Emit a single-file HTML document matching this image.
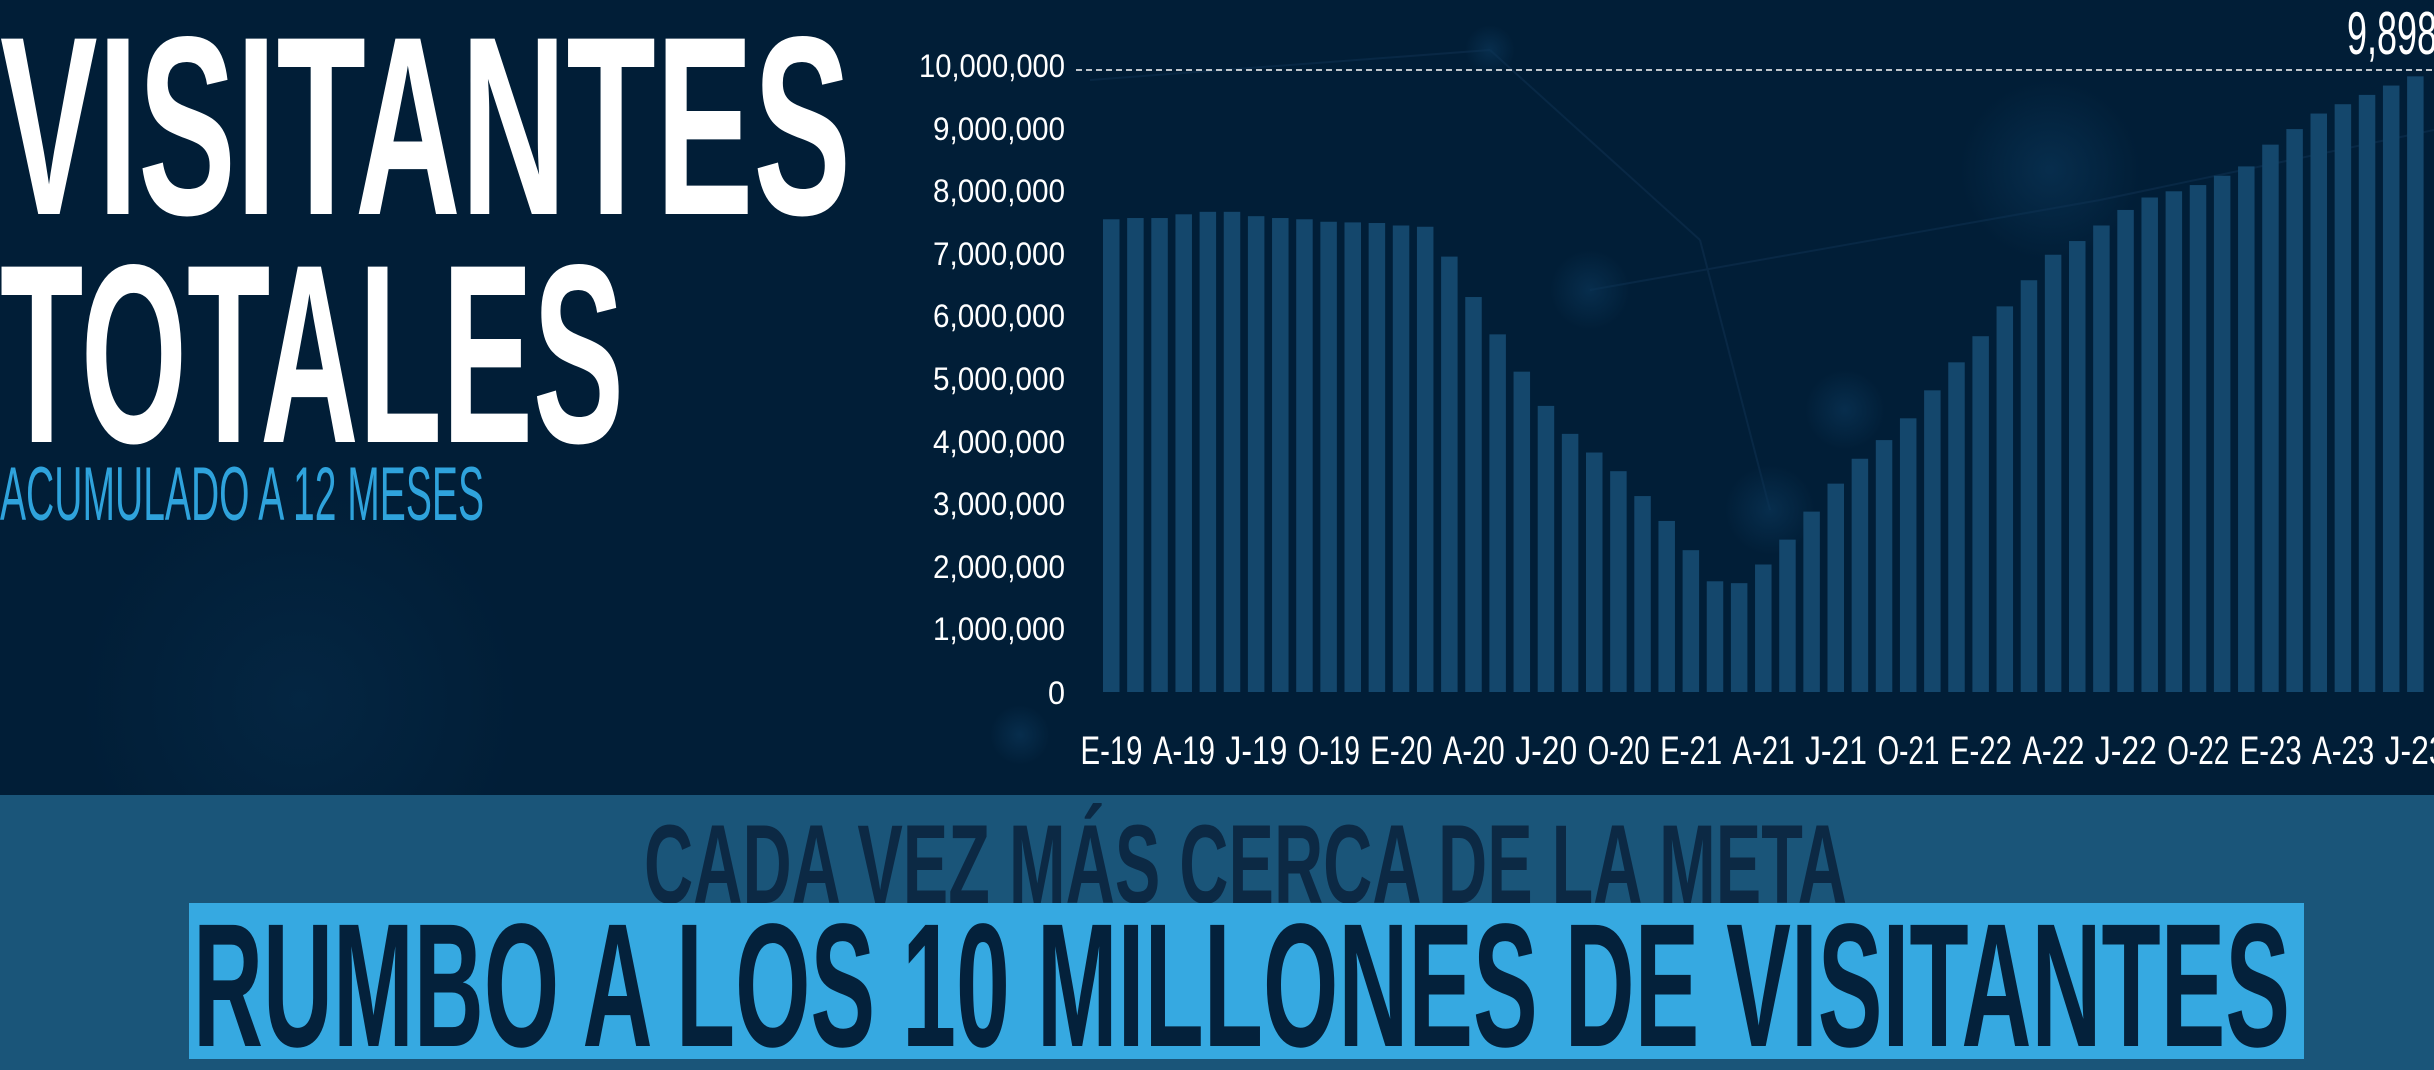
<!DOCTYPE html>
<html><head><meta charset="utf-8"><style>
html,body{margin:0;padding:0;background:#011e37;}
svg{display:block}
</style></head><body>
<svg width="2434" height="1070" viewBox="0 0 2434 1070" xmlns="http://www.w3.org/2000/svg">
<defs>
<radialGradient id="g1"><stop offset="0" stop-color="#0a3456" stop-opacity="0.7"/><stop offset="1" stop-color="#0a3456" stop-opacity="0"/></radialGradient>
</defs>
<rect width="2434" height="1070" fill="#011e37"/>
<g stroke="#1c4266" stroke-width="2" opacity="0.3" fill="none">
<line x1="1090" y1="80" x2="1490" y2="50"/>
<line x1="1490" y1="50" x2="1700" y2="240"/>
<line x1="1590" y1="290" x2="2100" y2="200"/>
<line x1="1700" y1="240" x2="1770" y2="510"/>
<line x1="2100" y1="200" x2="2434" y2="130"/>
</g>
<circle cx="1590" cy="290" r="40" fill="url(#g1)"/>
<circle cx="1770" cy="510" r="45" fill="url(#g1)"/>
<circle cx="1490" cy="50" r="25" fill="url(#g1)"/>
<circle cx="1020" cy="735" r="30" fill="url(#g1)"/>
<circle cx="2050" cy="170" r="90" fill="url(#g1)"/>
<circle cx="1845" cy="410" r="40" fill="url(#g1)"/>
<circle cx="300" cy="700" r="220" fill="url(#g1)" opacity="0.5"/>

<g font-family="Liberation Sans, sans-serif" fill="#ffffff" font-weight="bold">
<text x="0" y="214" font-size="255" textLength="851" lengthAdjust="spacingAndGlyphs">VISITANTES</text>
<text x="0" y="442" font-size="255" textLength="624" lengthAdjust="spacingAndGlyphs">TOTALES</text>
</g>
<text x="0" y="520" font-family="Liberation Sans, sans-serif" font-size="76" fill="#2fa3dc" textLength="484" lengthAdjust="spacingAndGlyphs">ACUMULADO A 12 MESES</text>

<line x1="1076" y1="70" x2="2434" y2="70" stroke="#ffffff" stroke-width="1.5" stroke-dasharray="6,4"/>
<text x="2347" y="54" font-family="Liberation Sans, sans-serif" font-size="60" fill="#ffffff" textLength="160" lengthAdjust="spacingAndGlyphs">9,898,517</text>

<g font-family="Liberation Sans, sans-serif" font-size="32" fill="#ffffff" text-anchor="end">
<text x="1065" y="77" textLength="146" lengthAdjust="spacingAndGlyphs">10,000,000</text>
<text x="1065" y="140" textLength="132" lengthAdjust="spacingAndGlyphs">9,000,000</text>
<text x="1065" y="202" textLength="132" lengthAdjust="spacingAndGlyphs">8,000,000</text>
<text x="1065" y="265" textLength="132" lengthAdjust="spacingAndGlyphs">7,000,000</text>
<text x="1065" y="327" textLength="132" lengthAdjust="spacingAndGlyphs">6,000,000</text>
<text x="1065" y="390" textLength="132" lengthAdjust="spacingAndGlyphs">5,000,000</text>
<text x="1065" y="453" textLength="132" lengthAdjust="spacingAndGlyphs">4,000,000</text>
<text x="1065" y="515" textLength="132" lengthAdjust="spacingAndGlyphs">3,000,000</text>
<text x="1065" y="578" textLength="132" lengthAdjust="spacingAndGlyphs">2,000,000</text>
<text x="1065" y="640" textLength="132" lengthAdjust="spacingAndGlyphs">1,000,000</text>
<text x="1065" y="704" textLength="17" lengthAdjust="spacingAndGlyphs">0</text>
</g>

<g id="bars" fill="#14476c"></g>
<g id="xl" font-family="Liberation Sans, sans-serif" font-size="40" fill="#ffffff" text-anchor="middle"></g>

<rect x="0" y="795" width="2434" height="275" fill="#1a5579"/>
<text x="644" y="903" font-family="Liberation Sans, sans-serif" font-weight="bold" font-size="112" fill="#0c2944" textLength="1203" lengthAdjust="spacingAndGlyphs">CADA VEZ MÁS CERCA DE LA META</text>
<rect x="189" y="903" width="2115" height="156" fill="#36a9e1"/>
<text x="193" y="1046" font-family="Liberation Sans, sans-serif" font-weight="bold" font-size="176" fill="#04213b" textLength="2097" lengthAdjust="spacingAndGlyphs">RUMBO A LOS 10 MILLONES DE VISITANTES</text>
</svg>
<script>
var v=[7.6,7.62,7.62,7.68,7.72,7.72,7.65,7.62,7.6,7.56,7.55,7.54,
7.5,7.48,7.0,6.35,5.75,5.15,4.6,4.15,3.85,3.55,3.15,2.75,
2.28,1.78,1.75,2.05,2.45,2.9,3.35,3.75,4.05,4.4,4.85,5.3,
5.72,6.2,6.62,7.03,7.25,7.5,7.75,7.95,8.05,8.15,8.3,8.45,
8.8,9.05,9.3,9.45,9.6,9.75,9.898];
var ns="http://www.w3.org/2000/svg",g=document.getElementById("bars"),xl=document.getElementById("xl");
var labs=["E-19","A-19","J-19","O-19","E-20","A-20","J-20","O-20","E-21","A-21","J-21","O-21","E-22","A-22","J-22","O-22","E-23","A-23","J-23"];
for(var i=0;i<v.length;i++){var x=1103+i*24.15,h=v[i]*62.2;var r=document.createElementNS(ns,"rect");
r.setAttribute("x",x);r.setAttribute("y",692-h);r.setAttribute("width",16.5);r.setAttribute("height",h);g.appendChild(r);
if(i%3==0){var t=document.createElementNS(ns,"text");t.setAttribute("x",x+8.5);t.setAttribute("y",764);
t.setAttribute("textLength",62);t.setAttribute("lengthAdjust","spacingAndGlyphs");t.textContent=labs[i/3];xl.appendChild(t);}}
</script>
</body></html>
